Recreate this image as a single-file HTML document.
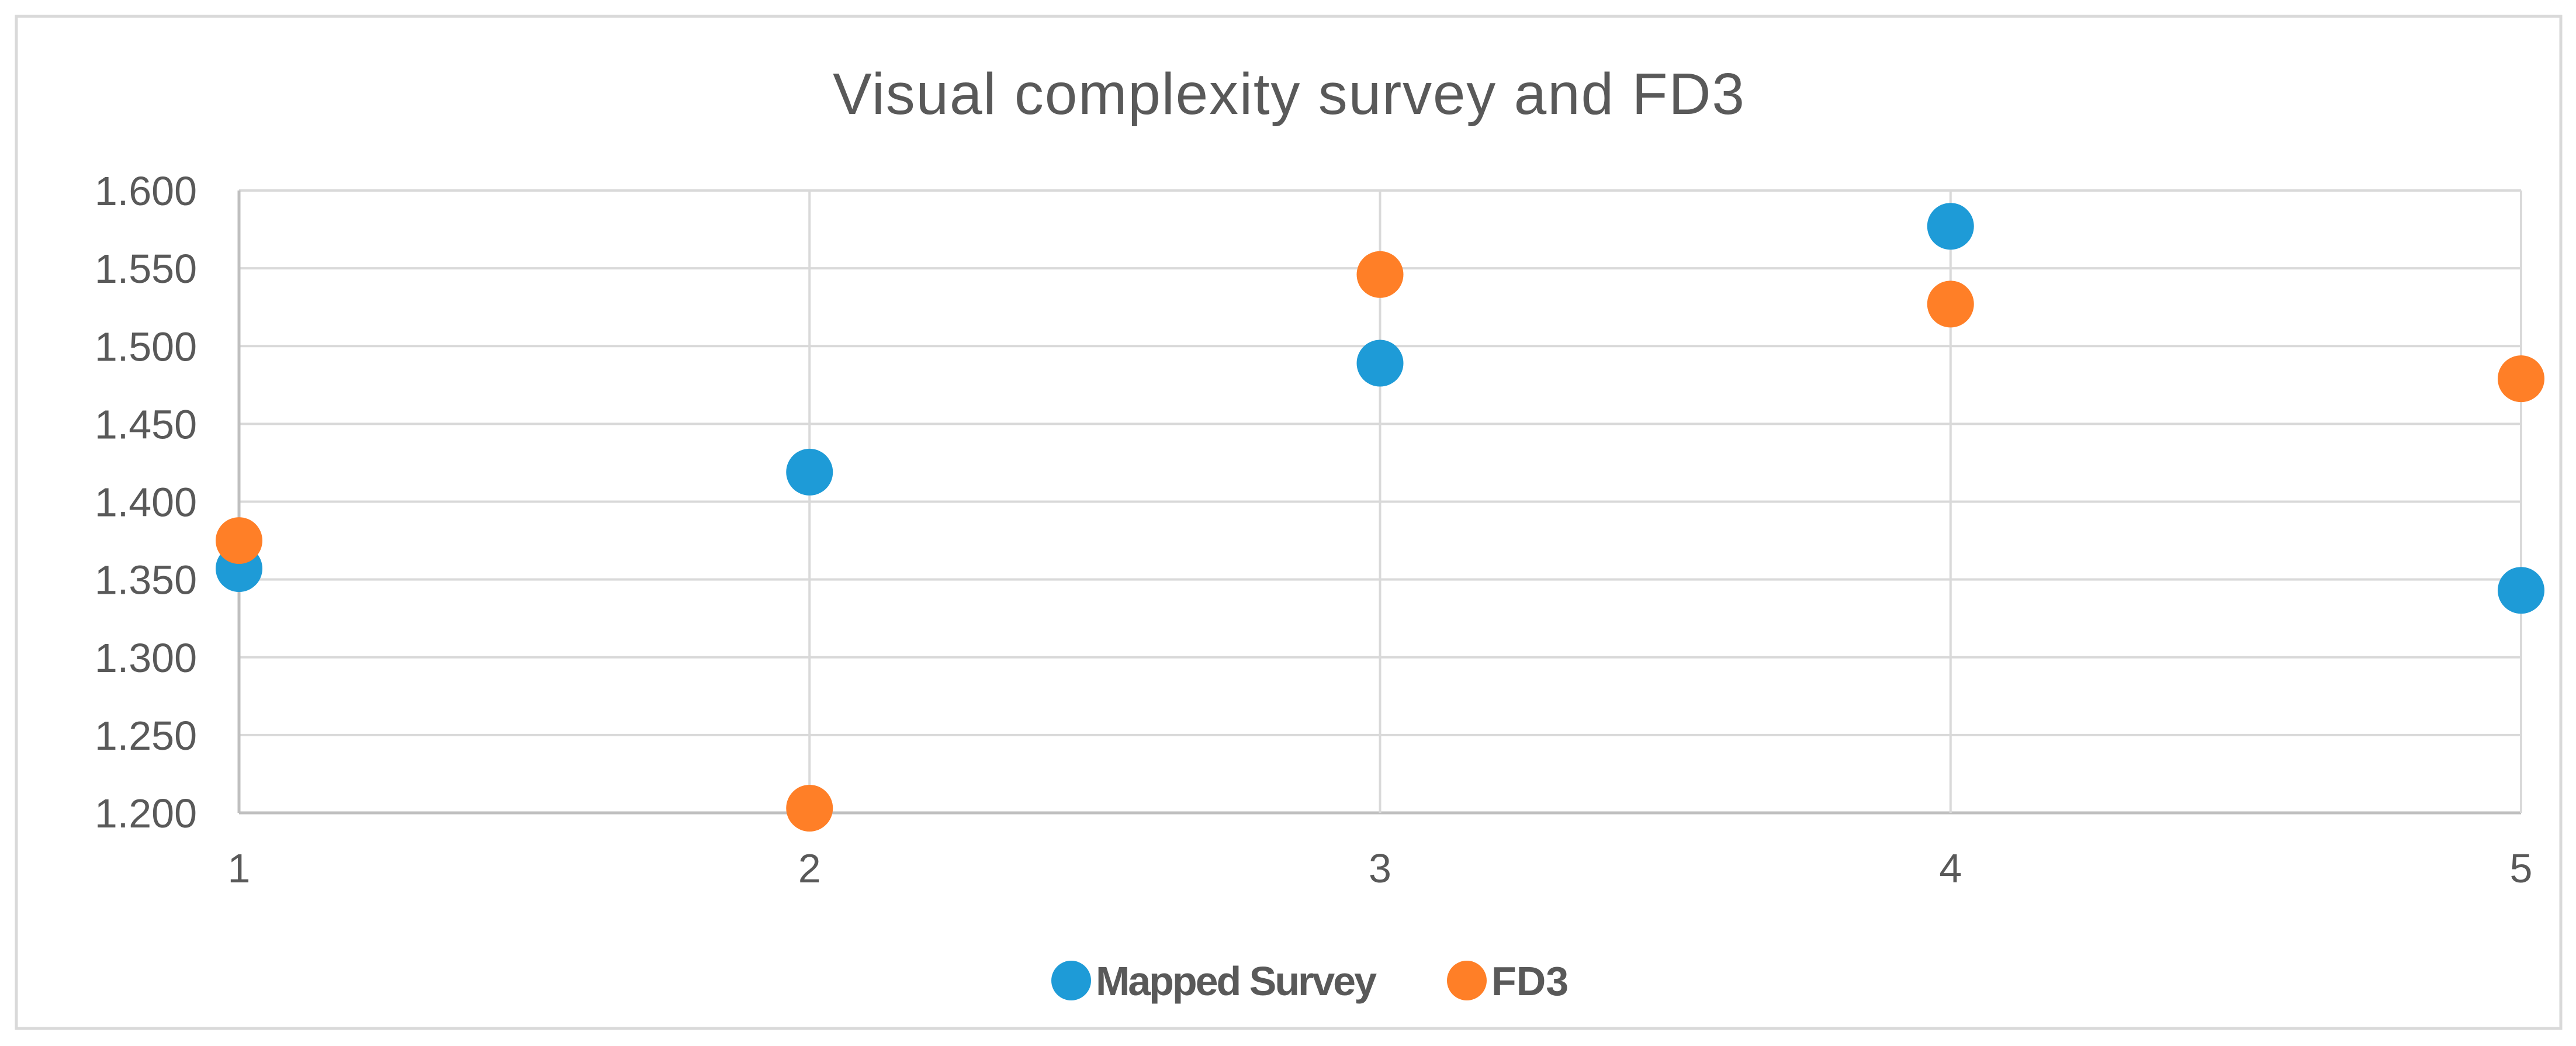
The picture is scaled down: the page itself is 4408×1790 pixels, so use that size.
<!DOCTYPE html>
<html><head><meta charset="utf-8"><style>
html,body{margin:0;padding:0;background:#fff;}
svg{display:block;}
text{font-family:"Liberation Sans",sans-serif;fill:#595959;}
</style></head><body>
<svg id="chart" width="4408" height="1790" viewBox="0 0 4408 1790" xmlns="http://www.w3.org/2000/svg">
<rect x="28" y="28" width="4354" height="1732" fill="#fff" stroke="#d9d9d9" stroke-width="5"/>
<text x="2205" y="195" font-size="100" text-anchor="middle" textLength="1560">Visual complexity survey and FD3</text>
<g id="grid"></g>
<g id="yticks"></g>
<g id="xticks"></g>
<g id="marks"></g>
<g>
<circle cx="1833" cy="1678" r="34" fill="#1e9bd7"/>
<text x="1875" y="1703" font-size="70" font-weight="bold" textLength="481">Mapped Survey</text>
<circle cx="2510" cy="1678" r="34" fill="#ff7f27"/>
<text x="2552" y="1703" font-size="70" font-weight="bold">FD3</text>
</g>
</svg>
<script>
const categories = [1, 2, 3, 4, 5];
const mappedSurvey = [1.357, 1.419, 1.489, 1.577, 1.343];
const fd3 = [1.375, 1.203, 1.546, 1.527, 1.479];
const yTicks = [1.2, 1.25, 1.3, 1.35, 1.4, 1.45, 1.5, 1.55, 1.6];
const yTickLabels = ["1.200","1.250","1.300","1.350","1.400","1.450","1.500","1.550","1.600"];

const NS = "http://www.w3.org/2000/svg";
const X0 = 409, X1 = 4314, Y0 = 1391, Y1 = 326;
const xMin = 1, xMax = 5, yMin = 1.2, yMax = 1.6;
function xs(v){ return X0 + (v - xMin) / (xMax - xMin) * (X1 - X0); }
function ys(v){ return Y0 - (v - yMin) / (yMax - yMin) * (Y0 - Y1); }
function mk(tag, attrs){ const e = document.createElementNS(NS, tag); for (const k in attrs) e.setAttribute(k, attrs[k]); return e; }

const grid = document.getElementById('grid');
yTicks.forEach((t, i) => {
  const l = mk('line', {x1: X0, x2: X1, y1: ys(t), y2: ys(t), stroke: i === 0 ? '#bfbfbf' : '#d9d9d9', 'stroke-width': i === 0 ? 5 : 4});
  
  
  grid.appendChild(l);
  const tx = mk('text', {x: 337, y: ys(t) + 25, 'font-size': 70, 'text-anchor': 'end'});
  tx.textContent = yTickLabels[i];
  
  
  document.getElementById('yticks').appendChild(tx);
});
categories.forEach((c, i) => {
  const l = mk('line', {x1: xs(c), x2: xs(c), y1: Y1, y2: Y0, stroke: i === 0 ? '#bfbfbf' : '#d9d9d9', 'stroke-width': i === 0 ? 5 : 4});
  
  
  grid.appendChild(l);
  const tx = mk('text', {x: xs(c), y: 1510, 'font-size': 70, 'text-anchor': 'middle'});
  tx.textContent = String(c);
  
  
  document.getElementById('xticks').appendChild(tx);
});
const marks = document.getElementById('marks');
categories.forEach((c, i) => {
  const p = mk('circle', {cx: xs(c), cy: ys(mappedSurvey[i]), r: 40, fill: '#1e9bd7'});
  
  
  marks.appendChild(p);
});
categories.forEach((c, i) => {
  const p = mk('circle', {cx: xs(c), cy: ys(fd3[i]), r: 40, fill: '#ff7f27'});
  
  
  marks.appendChild(p);
});
</script>
</body></html>
